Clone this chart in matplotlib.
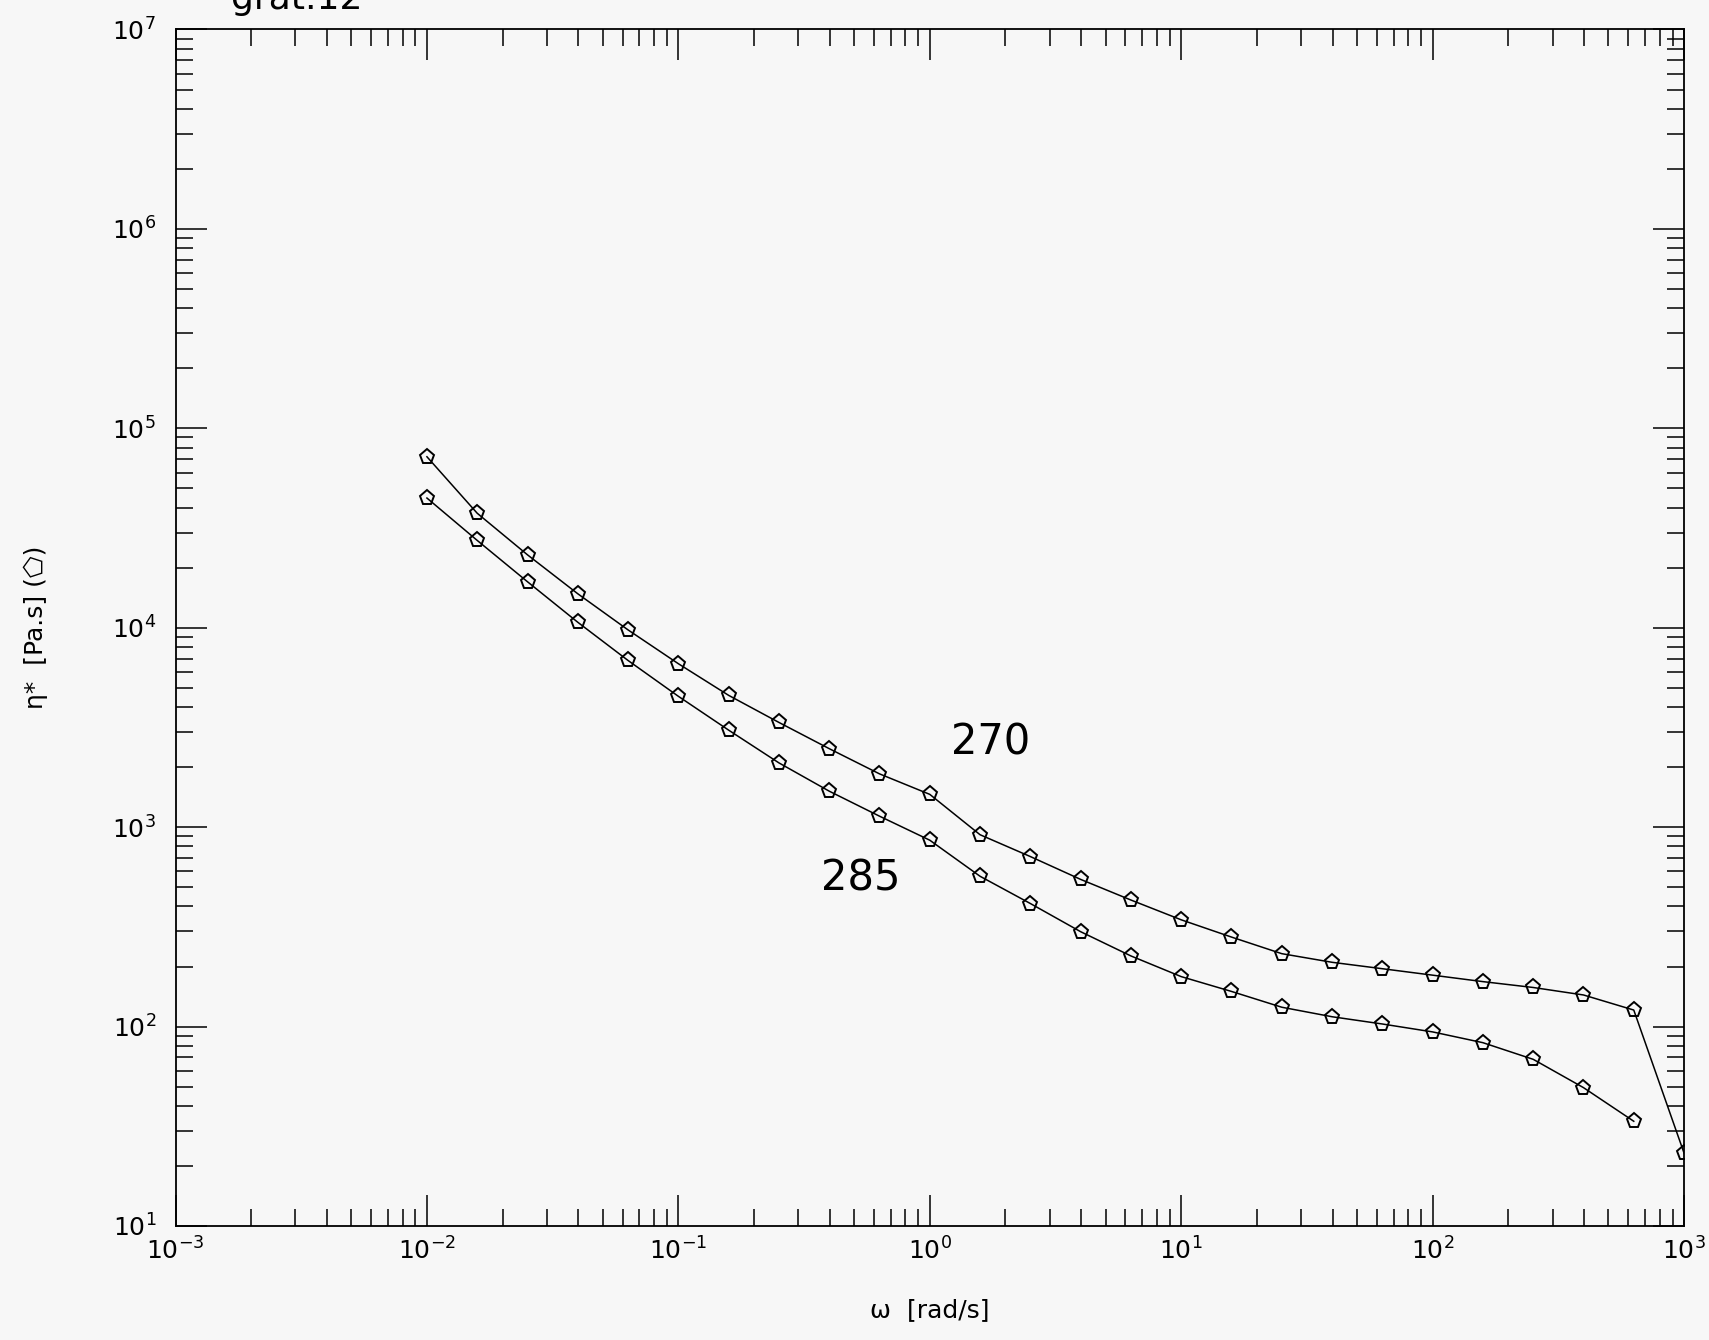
import numpy as np
import matplotlib
matplotlib.use('Agg')
import matplotlib.pyplot as plt
from matplotlib.ticker import LogLocator, FixedLocator, NullFormatter

# frequency sweep, log10(omega) in steps of 0.2 decades
log_omega = [-2.0, -1.8, -1.6, -1.4, -1.2, -1.0, -0.8, -0.6, -0.4, -0.2, 0.0,
             0.2, 0.4, 0.6, 0.8, 1.0, 1.2, 1.4, 1.6, 1.8, 2.0, 2.2, 2.4, 2.6,
             2.8, 3.0]

# complex viscosity [Pa.s]
eta_270 = [72000, 37500, 23200, 14800, 9750, 6600, 4580, 3350, 2475, 1850,
           1460, 916, 712, 547, 431, 343, 281, 232, 210, 195, 181, 168, 157,
           144, 121, 23.2]
eta_285 = [44700, 27400, 17000, 10650, 6850, 4530, 3065, 2100, 1515, 1135,
           860, 567, 414, 299, 226, 178, 150, 125, 112, 103, 94, 83, 68.5,
           49.4, 33.5]

curve_labels = ['270', '285']
label_pos = [(1.22e0, 2.65e3), (0.37, 5.5e2)]

x_ticks = [1e-3, 1e-2, 1e-1, 1e0, 1e1, 1e2, 1e3]
x_ticklabels = ['10$^{-3}$', '10$^{-2}$', '10$^{-1}$', '10$^{0}$',
                '10$^{1}$', '10$^{2}$', '10$^{3}$']
y_ticks = [1e1, 1e2, 1e3, 1e4, 1e5, 1e6, 1e7]
y_ticklabels = ['10$^{1}$', '10$^{2}$', '10$^{3}$', '10$^{4}$',
                '10$^{5}$', '10$^{6}$', '10$^{7}$']

BG = '#f7f7f7'

fig = plt.figure(figsize=(17.09, 13.40), dpi=100, facecolor=BG)
ax = fig.add_axes([0.1027, 0.0851, 0.8827, 0.8929], facecolor=BG)

omega = 10.0 ** np.array(log_omega)
for eta in (eta_270, eta_285):
    ax.plot(omega[:len(eta)], eta, color='black', lw=1.1,
            marker='p', markersize=11, markerfacecolor='none',
            markeredgecolor='black', markeredgewidth=1.4)

for txt, (xp, yp) in zip(curve_labels, label_pos):
    ax.text(xp, yp, txt, fontsize=30, ha='left', va='center')

ax.set_xscale('log')
ax.set_yscale('log')
ax.set_xlim(1e-3, 1e3)
ax.set_ylim(1e1, 1e7)

ax.xaxis.set_major_locator(FixedLocator(x_ticks))
ax.set_xticklabels(x_ticklabels)
ax.yaxis.set_major_locator(FixedLocator(y_ticks))
ax.set_yticklabels(y_ticklabels)
ax.xaxis.set_minor_locator(LogLocator(base=10, subs=np.arange(2, 10), numticks=20))
ax.yaxis.set_minor_locator(LogLocator(base=10, subs=np.arange(2, 10), numticks=20))
ax.xaxis.set_minor_formatter(NullFormatter())
ax.yaxis.set_minor_formatter(NullFormatter())

ax.tick_params(which='both', direction='in', top=True, right=True,
               width=1.1, colors='black')
ax.tick_params(which='major', length=22, labelsize=18)
ax.tick_params(axis='x', which='major', pad=8)
ax.tick_params(axis='y', which='major', pad=14)
ax.tick_params(which='minor', length=12)
for s in ax.spines.values():
    s.set_linewidth(1.3)

ax.set_xlabel('ω  [rad/s]', fontsize=18, labelpad=24)
ax.set_ylabel('η*  [Pa.s] (⬠)', fontsize=18, labelpad=46)

fig.text(0.135, 0.9935, 'grat.12', fontsize=26, ha='left', va='baseline')

fig.savefig('out.png', dpi=100, facecolor=BG)
